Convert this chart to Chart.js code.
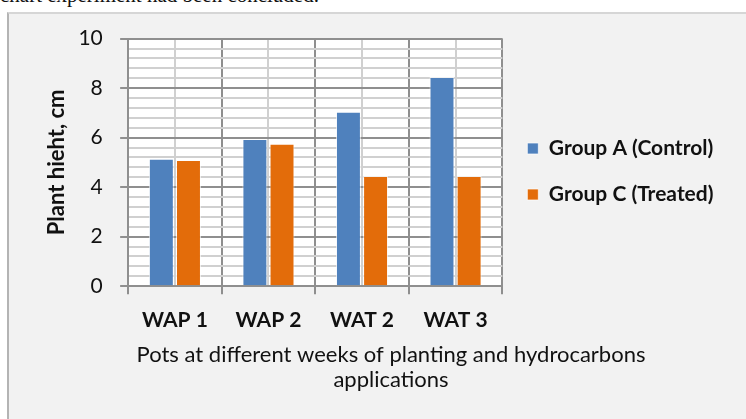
<!DOCTYPE html>
<html>
<head>
<meta charset="utf-8">
<script src="https://cdn.jsdelivr.net/npm/chart.js@4/dist/chart.umd.min.js"></script>
<style>
  html, body { margin: 0; padding: 0; background: #fff; overflow: hidden; width: 746px; height: 419px; }
  #cut { position: absolute; left: 0; top: -15px; font: 21px "Liberation Serif", serif; color: #111; white-space: nowrap; line-height: 1; }
  #box { position: absolute; left: 7px; top: 12px; width: 766px; height: 420px; background: #f2f2f2;
         border-left: 2px solid #b4b4b4; border-top: 2px solid #d6d6d6; }
  #wrap { position: absolute; left: 0; top: 0; width: 737px; height: 405px; }
</style>
</head>
<body>
<div id="cut">chart experiment had been concluded.</div>
<div id="box"><div id="wrap"><canvas id="chartPlant"></canvas></div></div>
<script>
// --- data ---
const categories = ['WAP 1', 'WAP 2', 'WAT 2', 'WAT 3'];
const groupA = [5.15, 5.95, 7.05, 8.45];   // Group A (Control)
const groupC = [5.1, 5.75, 4.45, 4.45];    // Group C (Treated)
const yMin = 0, yMax = 10, yMajor = 2;
const xTitle = ['Pots at different weeks of planting and hydrocarbons', 'applications'];
const yTitle = 'Plant hieht, cm';

const FONT = 'Lato, "Open Sans", sans-serif';
const isMajor = v => Math.abs(v / yMajor - Math.round(v / yMajor)) < 1e-6;

// white plot area on the grey chart background
const plotBg = {
  id: 'plotBg',
  beforeDraw(chart) {
    const { ctx, chartArea: a } = chart;
    ctx.save();
    ctx.fillStyle = '#ffffff';
    ctx.fillRect(a.left, a.top, a.right - a.left, a.bottom - a.top);
    ctx.restore();
  },
};

new Chart(document.getElementById('chartPlant'), {
  type: 'bar',
  data: {
    labels: categories,
    datasets: [
      { label: 'Group A (Control)', data: groupA, backgroundColor: '#4f81bd', borderColor: 'rgba(255,255,255,.7)', borderWidth: 1 },
      { label: 'Group C (Treated)', data: groupC, backgroundColor: '#e36c0a', borderColor: 'rgba(255,255,255,.7)', borderWidth: 1 },
    ],
  },
  options: {
    responsive: true,
    maintainAspectRatio: false,
    animation: false,
    datasets: { bar: { barPercentage: 0.92, categoryPercentage: 0.58 } },
    layout: { padding: { left: 49.5, right: 22.5, top: 12, bottom: 26 } },
    plugins: {
      legend: {
        position: 'right', align: 'start', maxWidth: 400,
        title: { display: true, text: ' ', font: { size: 10, lineHeight: 1.2 }, padding: { top: 75, bottom: 0 } },
        labels: { color: '#111', boxWidth: 11, boxHeight: 11, padding: 25, font: { family: FONT, size: 21, weight: 'bold' } },
      },
      title: {
        display: true, position: 'bottom', text: xTitle, color: '#111',
        font: { family: FONT, size: 22, weight: 'normal', lineHeight: 1.15 }, padding: { top: -3, bottom: 0 },
      },
      tooltip: { enabled: false },
    },
    scales: {
      x: {
        grid: { color: '#8f8f8f', lineWidth: 2, tickLength: 8, tickColor: '#8f8f8f' },
        border: { color: '#8f8f8f', width: 2 },
        ticks: { color: '#111', padding: 13, font: { family: FONT, size: 21, weight: 'bold', lineHeight: 1.2 } },
      },
      x2: {
        type: 'category', labels: categories, offset: true, position: 'top',
        grid: { offset: false, color: '#d0d0d0', lineWidth: 2, drawTicks: false },
        border: { display: false },
        ticks: { display: false },
      },
      y: {
        min: yMin, max: yMax,
        ticks: {
          count: 26, autoSkip: false, color: '#111', padding: 12,
          font: { family: FONT, size: 21 },
          callback: v => isMajor(v) ? Math.round(v) + ' ' : '',
        },
        grid: {
          lineWidth: 2, tickLength: 8,
          color: c => isMajor(c.tick.value) ? '#8f8f8f' : '#d0d0d0',
          tickColor: c => isMajor(c.tick.value) ? '#8f8f8f' : 'rgba(0,0,0,0)',
        },
        border: { color: '#8f8f8f', width: 2 },
        title: { display: true, text: yTitle, color: '#111', font: { family: FONT, size: 22, weight: 'bold', lineHeight: 1.2 }, padding: { top: -15, bottom: -3.5 } },
      },
    },
  },
  plugins: [plotBg],
});
</script>
</body>
</html>
